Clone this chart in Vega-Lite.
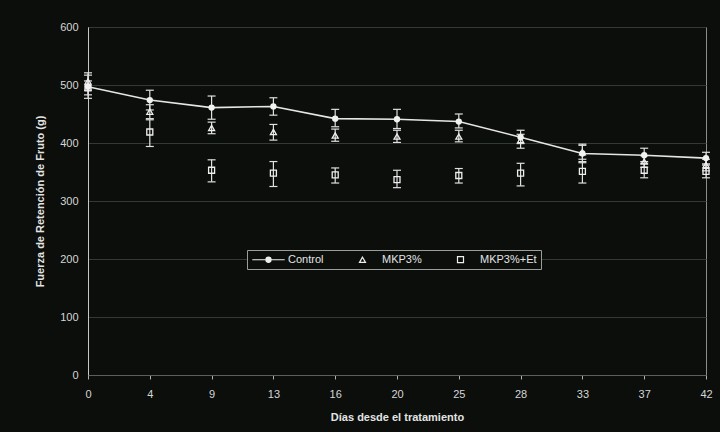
{
  "$schema": "https://vega.github.io/schema/vega-lite/v6.json",
  "width": 618,
  "height": 348,
  "autosize": {"type": "none"},
  "padding": {"left": 88, "top": 27, "right": 14, "bottom": 57},
  "background": "#0b0e0b",
  "config": {
    "font": "Liberation Sans",
    "view": {"stroke": "#8a8e8a", "strokeWidth": 1},
    "axis": {
      "labelColor": "#d6d6d6",
      "labelFontSize": 11,
      "titleColor": "#e4e4e4",
      "titleFontSize": 11,
      "titleFontWeight": "bold",
      "gridColor": "#323a33",
      "gridWidth": 1
    }
  },
  "data": {
    "values": [
      {"dia": 0, "serie": "Control", "v": 497, "lo": 477, "hi": 517},
      {"dia": 4, "serie": "Control", "v": 474, "lo": 457, "hi": 491},
      {"dia": 9, "serie": "Control", "v": 461, "lo": 441, "hi": 481},
      {"dia": 13, "serie": "Control", "v": 463, "lo": 448, "hi": 478},
      {"dia": 16, "serie": "Control", "v": 442, "lo": 428, "hi": 458},
      {"dia": 20, "serie": "Control", "v": 441, "lo": 425, "hi": 458},
      {"dia": 25, "serie": "Control", "v": 437, "lo": 426, "hi": 450},
      {"dia": 28, "serie": "Control", "v": 410, "lo": 399, "hi": 422},
      {"dia": 33, "serie": "Control", "v": 382, "lo": 366, "hi": 398},
      {"dia": 37, "serie": "Control", "v": 379, "lo": 368, "hi": 391},
      {"dia": 42, "serie": "Control", "v": 374, "lo": 364, "hi": 384},
      {"dia": 0, "serie": "MKP3%", "v": 506, "lo": 491, "hi": 521},
      {"dia": 4, "serie": "MKP3%", "v": 454, "lo": 442, "hi": 466},
      {"dia": 9, "serie": "MKP3%", "v": 426, "lo": 416, "hi": 436},
      {"dia": 13, "serie": "MKP3%", "v": 419, "lo": 405, "hi": 432},
      {"dia": 16, "serie": "MKP3%", "v": 413, "lo": 403, "hi": 424},
      {"dia": 20, "serie": "MKP3%", "v": 411, "lo": 401, "hi": 422},
      {"dia": 25, "serie": "MKP3%", "v": 411, "lo": 402, "hi": 422},
      {"dia": 28, "serie": "MKP3%", "v": 405, "lo": 391, "hi": 415},
      {"dia": 33, "serie": "MKP3%", "v": 384, "lo": 372, "hi": 396},
      {"dia": 37, "serie": "MKP3%", "v": 368, "lo": 358, "hi": 378},
      {"dia": 42, "serie": "MKP3%", "v": 362, "lo": 352, "hi": 372},
      {"dia": 0, "serie": "MKP3%+Et", "v": 495, "lo": 483, "hi": 507},
      {"dia": 4, "serie": "MKP3%+Et", "v": 419, "lo": 394, "hi": 440},
      {"dia": 9, "serie": "MKP3%+Et", "v": 353, "lo": 333, "hi": 371},
      {"dia": 13, "serie": "MKP3%+Et", "v": 348, "lo": 325, "hi": 368},
      {"dia": 16, "serie": "MKP3%+Et", "v": 345, "lo": 331, "hi": 357},
      {"dia": 20, "serie": "MKP3%+Et", "v": 337, "lo": 323, "hi": 353},
      {"dia": 25, "serie": "MKP3%+Et", "v": 344, "lo": 331, "hi": 356},
      {"dia": 28, "serie": "MKP3%+Et", "v": 348, "lo": 326, "hi": 365},
      {"dia": 33, "serie": "MKP3%+Et", "v": 351, "lo": 331, "hi": 368},
      {"dia": 37, "serie": "MKP3%+Et", "v": 353, "lo": 340, "hi": 365},
      {"dia": 42, "serie": "MKP3%+Et", "v": 351, "lo": 340, "hi": 362}
    ]
  },
  "encoding": {
    "x": {
      "field": "dia",
      "type": "ordinal",
      "scale": {"type": "point", "padding": 0},
      "axis": {
        "title": "Días desde el tratamiento",
        "labelAngle": 0,
        "domainColor": "#5a605a",
        "tickColor": "#b0b0b0",
        "tickSize": 4,
        "labelPadding": 9,
        "titlePadding": 12,
        "grid": false
      }
    }
  },
  "layer": [
    {
      "mark": {"type": "rule", "stroke": "#e0e0e0", "strokeWidth": 1.2},
      "encoding": {
        "y": {
          "field": "lo",
          "type": "quantitative",
          "scale": {"domain": [0, 600], "nice": false},
          "axis": {
            "title": "Fuerza de Retención de Fruto (g)",
            "values": [0, 100, 200, 300, 400, 500, 600],
            "grid": true,
            "domainColor": "#c8c8c8",
            "tickSize": 0,
            "labelPadding": 10,
            "titlePadding": 14
          }
        },
        "y2": {"field": "hi"}
      }
    },
    {
      "mark": {"type": "tick", "color": "#e0e0e0", "size": 8, "thickness": 1.2, "opacity": 1},
      "encoding": {"y": {"field": "lo", "type": "quantitative"}}
    },
    {
      "mark": {"type": "tick", "color": "#e0e0e0", "size": 8, "thickness": 1.2, "opacity": 1},
      "encoding": {"y": {"field": "hi", "type": "quantitative"}}
    },
    {
      "transform": [{"filter": "datum.serie === 'Control'"}],
      "mark": {"type": "line", "stroke": "#e6e6e6", "strokeWidth": 1.6},
      "encoding": {"y": {"field": "v", "type": "quantitative"}}
    },
    {
      "transform": [{"filter": "datum.serie !== 'Control'"}],
      "mark": {"type": "point", "filled": false, "color": "#eeeeee", "strokeWidth": 1.3, "size": 36, "opacity": 1},
      "encoding": {
        "y": {"field": "v", "type": "quantitative"},
        "shape": {
          "field": "serie",
          "type": "nominal",
          "scale": {
            "domain": ["Control", "MKP3%", "MKP3%+Et"],
            "range": [
              "M-5.4,0H5.4M-0.85,0A0.85,0.85 0 1,0 0.85,0A0.85,0.85 0 1,0 -0.85,0M-0.45,0A0.45,0.45 0 1,0 0.45,0A0.45,0.45 0 1,0 -0.45,0M-0.12,0A0.12,0.12 0 1,0 0.12,0A0.12,0.12 0 1,0 -0.12,0",
              "triangle-up",
              "square"
            ]
          },
          "legend": {
            "title": null,
            "orient": "none",
            "legendX": 159,
            "legendY": 223,
            "direction": "horizontal",
            "padding": 4,
            "fillColor": "#0b0e0b",
            "strokeColor": "#9a9e9a",
            "labelColor": "#e4e4e4",
            "labelFontSize": 11,
            "symbolSize": 36,
            "symbolOffset": 12,
            "labelOffset": 14,
            "columnPadding": 21,
            "symbolStrokeColor": "#eeeeee",
            "symbolStrokeWidth": 1.2
          }
        }
      }
    },
    {
      "transform": [{"filter": "datum.serie === 'Control'"}],
      "mark": {"type": "circle", "color": "#f2f2f2", "size": 40, "opacity": 1},
      "encoding": {"y": {"field": "v", "type": "quantitative"}}
    }
  ]
}
